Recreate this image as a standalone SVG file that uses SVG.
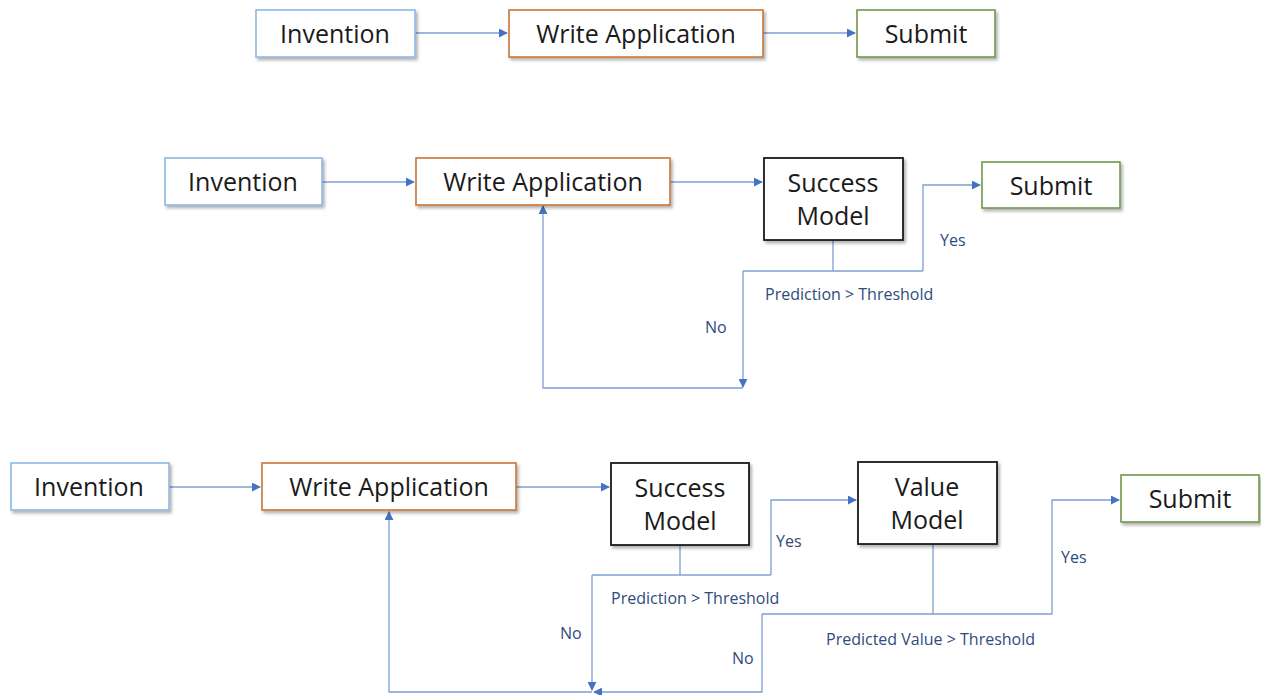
<svg xmlns="http://www.w3.org/2000/svg" width="1261" height="695" viewBox="0 0 1261 695">
<defs>
<filter id="sh" x="-10%" y="-10%" width="130%" height="140%">
<feDropShadow dx="2" dy="2.5" stdDeviation="1.5" flood-color="#000" flood-opacity="0.3"/>
</filter>
<marker id="ah" viewBox="0 0 10 10" refX="9" refY="5" markerWidth="9" markerHeight="9" markerUnits="userSpaceOnUse" orient="auto">
<path d="M0,0 L10,5 L0,10 z" fill="#4472C4"/>
</marker>
<style>
.box{fill:#fff;stroke-width:1.6;filter:url(#sh)}
.inv{stroke:#8CB8E4}
.wa{stroke:#C8763A}
.sub{stroke:#6E9A48}
.mod{stroke:#1a1a1a;stroke-width:1.8}
.t{font-family:"Open Sans","Noto Sans",sans-serif;font-size:25px;fill:#1a1a1a;text-anchor:middle;dominant-baseline:central}
.l{font-family:"Open Sans","Noto Sans",sans-serif;font-size:16px;fill:#2F4B7C;dominant-baseline:central}
.c{fill:none;stroke:#7E9FD3;stroke-width:1.3}
.a{marker-end:url(#ah)}
</style>
</defs>
<rect width="1261" height="695" fill="#fff"/>

<g id="connectors">
<path class="c a" d="M415,33 H507"/>
<path class="c a" d="M763,33 H855"/>

<path class="c a" d="M322,182 H414"/>
<path class="c a" d="M670,182 H762"/>
<path class="c" d="M833,240 V271"/>
<path class="c" d="M743,271 H923"/>
<path class="c a" d="M923,271 V185 H980"/>
<path class="c a" d="M743,271 V387"/>
<path class="c a" d="M743,388 H543 V206"/>

<path class="c a" d="M169,487 H260"/>
<path class="c a" d="M516,487 H609"/>
<path class="c" d="M680,545 V575"/>
<path class="c" d="M592,575 H771"/>
<path class="c a" d="M771,575 V500 H856"/>
<path class="c a" d="M592,575 V690"/>
<path class="c" d="M933,544 V614"/>
<path class="c a" d="M762,614 H1052 V500 H1119"/>
<path class="c a" d="M762,614 V692 H594"/>
<path class="c a" d="M592,692 H389 V512"/>
</g>

<g id="labels">
<text class="l" x="765" y="294">Prediction &gt; Threshold</text>
<text class="l" x="940" y="240">Yes</text>
<text class="l" x="705" y="327">No</text>
<text class="l" x="611" y="598">Prediction &gt; Threshold</text>
<text class="l" x="776" y="541">Yes</text>
<text class="l" x="560" y="633">No</text>
<text class="l" x="826" y="639">Predicted Value &gt; Threshold</text>
<text class="l" x="1061" y="557">Yes</text>
<text class="l" x="732" y="658">No</text>
</g>

<g id="r1-invention"><rect class="box inv" x="256" y="10" width="159" height="47"/><text class="t" x="335" y="33">Invention</text></g>
<g id="r1-write"><rect class="box wa" x="509" y="10" width="254" height="47"/><text class="t" x="636" y="33">Write Application</text></g>
<g id="r1-submit"><rect class="box sub" x="857" y="10" width="138" height="47"/><text class="t" x="926" y="33">Submit</text></g>

<g id="r2-invention"><rect class="box inv" x="165" y="158" width="157" height="47"/><text class="t" x="243" y="181">Invention</text></g>
<g id="r2-write"><rect class="box wa" x="416" y="158" width="254" height="47"/><text class="t" x="543" y="181">Write Application</text></g>
<g id="r2-success"><rect class="box mod" x="764" y="158" width="139" height="82"/><text class="t" x="833" y="182">Success</text><text class="t" x="833" y="215">Model</text></g>
<g id="r2-submit"><rect class="box sub" x="982" y="162" width="138" height="46"/><text class="t" x="1051" y="185">Submit</text></g>

<g id="r3-invention"><rect class="box inv" x="11" y="463" width="158" height="47"/><text class="t" x="89" y="486">Invention</text></g>
<g id="r3-write"><rect class="box wa" x="262" y="463" width="254" height="47"/><text class="t" x="389" y="486">Write Application</text></g>
<g id="r3-success"><rect class="box mod" x="611" y="463" width="138" height="82"/><text class="t" x="680" y="487">Success</text><text class="t" x="680" y="520">Model</text></g>
<g id="r3-value"><rect class="box mod" x="858" y="462" width="139" height="82"/><text class="t" x="927" y="486">Value</text><text class="t" x="927" y="519">Model</text></g>
<g id="r3-submit"><rect class="box sub" x="1121" y="475" width="138" height="47"/><text class="t" x="1190" y="498">Submit</text></g>
</svg>
